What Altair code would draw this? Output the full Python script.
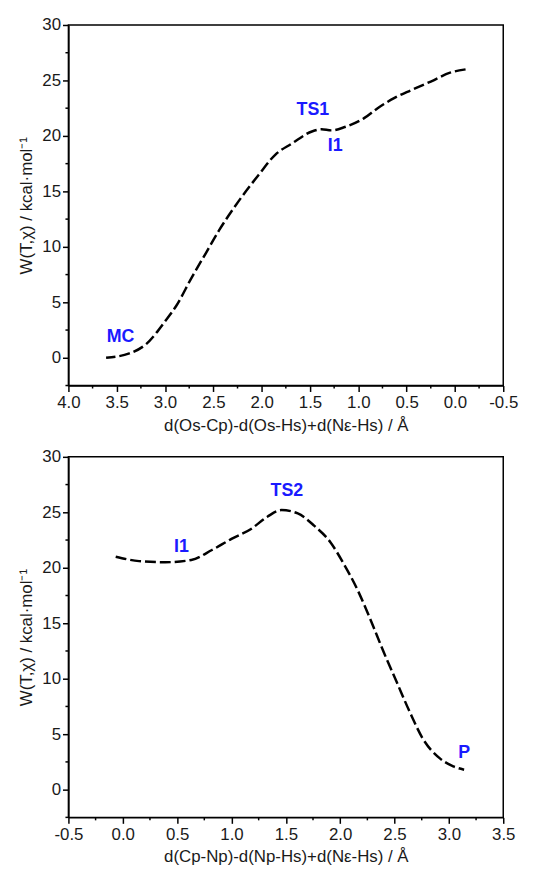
import altair as alt
import pandas as pd

# Panel 1 curve
x1 = [3.61, 3.37, 3.20, 2.99, 2.89, 2.72, 2.58, 2.44, 2.24, 2.03, 1.86, 1.69, 1.48, 1.38, 1.28, 1.14, 0.94, 0.80, 0.63, 0.46, 0.25, 0.05, -0.11]
w1 = [0.0, 0.39, 1.2, 3.4, 4.6, 7.3, 9.4, 11.5, 14.1, 16.5, 18.3, 19.3, 20.4, 20.6, 20.5, 20.8, 21.6, 22.5, 23.4, 24.1, 24.9, 25.7, 26.0]
lab1 = ["MC", "TS1", "I1"]
lab1_x = [3.46, 1.47, 1.24]
lab1_y = [1.9, 22.3, 19.1]

# Panel 2 curve
x2 = [-0.065, 0.15, 0.39, 0.63, 0.82, 1.0, 1.18, 1.33, 1.46, 1.61, 1.76, 1.91, 2.03, 2.16, 2.28, 2.40, 2.52, 2.64, 2.76, 2.92, 3.04, 3.14]
w2 = [21.0, 20.6, 20.5, 20.7, 21.6, 22.6, 23.5, 24.6, 25.2, 24.9, 23.8, 22.3, 20.4, 18.0, 15.3, 12.4, 9.7, 7.0, 4.6, 2.8, 2.1, 1.8]
lab2 = ["I1", "TS2", "P"]
lab2_x = [0.54, 1.51, 3.14]
lab2_y = [21.9, 26.9, 3.3]

x1_major = [4.0, 3.5, 3.0, 2.5, 2.0, 1.5, 1.0, 0.5, 0.0, -0.5]
x1_minor = [3.75, 3.25, 2.75, 2.25, 1.75, 1.25, 0.75, 0.25, -0.25]
x2_major = [-0.5, 0.0, 0.5, 1.0, 1.5, 2.0, 2.5, 3.0, 3.5]
x2_minor = [-0.25, 0.25, 0.75, 1.25, 1.75, 2.25, 2.75, 3.25]
y_major = [0, 5, 10, 15, 20, 25, 30]
y_minor = [-2.5, 2.5, 7.5, 12.5, 17.5, 22.5, 27.5]

FONT = "Liberation Sans"
BLUE = "#1a1aff"
YTITLE = "W(T,χ) / kcal·mol⁻¹"
W, H = 439, 364


def panel(xs, ws, labs, lx, ly, xdomain, reverse, xmaj, xmin, xtitle):
    df = pd.DataFrame({"x": xs, "w": ws})
    dl = pd.DataFrame({"t": labs, "x": lx, "y": ly})
    dxm = pd.DataFrame({"x": xmin})
    dym = pd.DataFrame({"y": y_minor})
    xs_scale = alt.Scale(domain=xdomain, reverse=reverse, nice=False, zero=False)
    ys_scale = alt.Scale(domain=[-2.5, 30], nice=False, zero=False)
    xax = alt.Axis(
        values=xmaj, title=xtitle,
        labelExpr="(datum.value < 0 ? '-' : '') + format(abs(datum.value), '.1f')",
        tickSize=6, grid=False, labelPadding=3, titlePadding=7, labelFlush=False,
    )
    yax = alt.Axis(
        values=y_major, title=YTITLE, format="d",
        tickSize=6, grid=False, labelPadding=2, titlePadding=6, labelFlush=False,
    )
    line = alt.Chart(df).mark_line(
        color="black", strokeWidth=2.5, strokeDash=[11, 4], interpolate="monotone"
    ).encode(
        x=alt.X("x:Q", scale=xs_scale, axis=xax),
        y=alt.Y("w:Q", scale=ys_scale, axis=yax),
        order="x:Q",
    )
    text = alt.Chart(dl).mark_text(
        color=BLUE, font=FONT, fontSize=18, fontWeight="bold"
    ).encode(
        x=alt.X("x:Q", scale=xs_scale),
        y=alt.Y("y:Q", scale=ys_scale),
        text="t:N",
    )
    xminor = alt.Chart(dxm).mark_rule(color="black", strokeWidth=1.5).encode(
        x=alt.X("x:Q", scale=xs_scale),
        y=alt.value(H), y2=alt.value(H + 3),
    )
    yminor = alt.Chart(dym).mark_rule(color="black", strokeWidth=1.5).encode(
        y=alt.Y("y:Q", scale=ys_scale),
        x=alt.value(0), x2=alt.value(-3),
    )
    return alt.layer(line, text, xminor, yminor).properties(width=W, height=H)


top = panel(x1, w1, lab1, lab1_x, lab1_y, [-0.5, 4.0], True, x1_major, x1_minor,
            "d(Os-Cp)-d(Os-Hs)+d(Nε-Hs) / Å")
bottom = panel(x2, w2, lab2, lab2_x, lab2_y, [-0.5, 3.5], False, x2_major, x2_minor,
               "d(Cp-Np)-d(Np-Hs)+d(Nε-Hs) / Å")

chart = alt.vconcat(top, bottom, spacing=13).configure_view(
    stroke="black", strokeWidth=1.5
).configure_axis(
    domainColor="black", domainWidth=1.5, tickColor="black", tickWidth=1.5,
    labelColor="#1a1a1a", labelFont=FONT, labelFontSize=17,
    titleColor="#1a1a1a", titleFont=FONT, titleFontSize=17, titleFontWeight="normal",
).properties(padding={"left": 9, "top": 3, "right": 10, "bottom": 2})

chart.save("out.html", embed_options={"renderer": "svg", "actions": False})
